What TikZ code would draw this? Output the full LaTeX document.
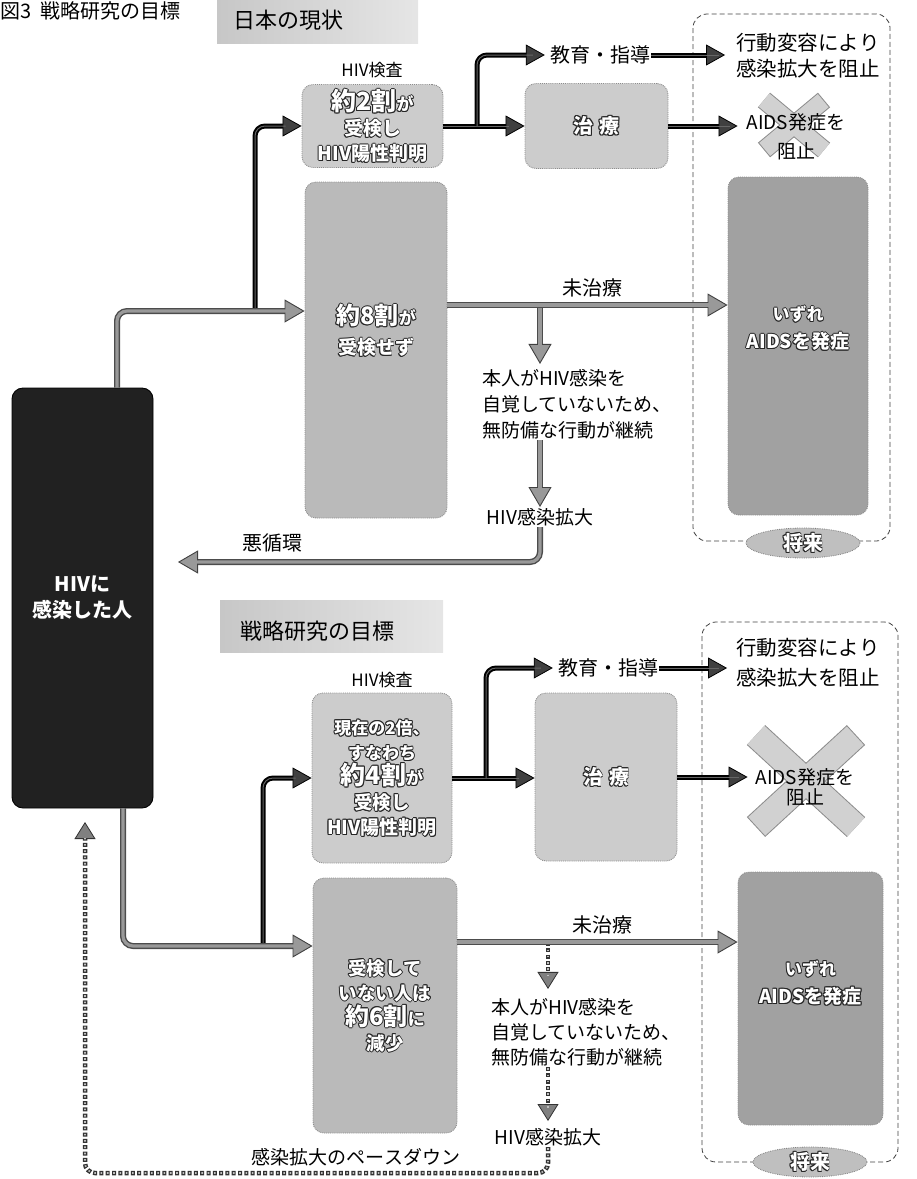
\documentclass[tikz,border=0pt]{standalone}
\usepackage{fontspec}
\setmainfont{Noto Sans CJK JP}
\usetikzlibrary{arrows.meta,calc,shapes.geometric}
\definecolor{boxlight}{gray}{0.80}
\definecolor{boxmid}{gray}{0.73}
\definecolor{boxdark}{gray}{0.63}
\definecolor{hivfill}{gray}{0.13}
\newcommand\fsz[2]{\fontsize{#1pt}{#2pt}\selectfont}
\newcommand\hlo[1]{\leavevmode
 \rlap{\color{black!85}\kern.95pt#1}%
 \rlap{\color{black!85}\kern-.95pt#1}%
 \rlap{\color{black!85}\raise.95pt\hbox{#1}}%
 \rlap{\color{black!85}\raise-.95pt\hbox{#1}}%
 \rlap{\color{black!85}\kern.7pt\raise.7pt\hbox{#1}}%
 \rlap{\color{black!85}\kern-.7pt\raise.7pt\hbox{#1}}%
 \rlap{\color{black!85}\kern.7pt\raise-.7pt\hbox{#1}}%
 \rlap{\color{black!85}\kern-.7pt\raise-.7pt\hbox{#1}}%
 {\color{white}#1}}
\tikzset{
 rbox/.style={rounded corners=11pt, draw=black!45, densely dotted, line width=.9pt, align=center, inner sep=0pt},
 lt/.style={rbox, fill=boxlight},
 md/.style={rbox, fill=boxmid},
 dk/.style={rbox, fill=boxdark},
 lbl/.style={inner sep=1pt, align=center, font=\fsz{19}{25}},
 titletxt/.style={inner sep=0pt, font=\fsz{22}{24}},
 frame/.style={draw=black!75, line width=.8pt, dash pattern=on 5pt off 3pt, rounded corners=14pt},
 futell/.style={ellipse, fill=black!25, draw=black!50, densely dotted, line width=.8pt, minimum width=114pt, minimum height=30pt, inner sep=0pt, font=\fsz{20}{22}\bfseries},
 darkarrow/.style={draw=black, line width=5pt, rounded corners=10pt,
   -{Triangle[length=19pt,width=21pt,line width=.8pt,fill=black!75,color=black]},
   postaction={draw=black!60, line width=1pt, -, shorten >=16pt}},
 grayarrow/.style={draw=black!70, line width=6pt, rounded corners=10pt,
   -{Triangle[length=20pt,width=23pt,line width=.9pt,fill=black!40,color=black!75]},
   postaction={draw=black!40, line width=3.2pt, -, shorten >=18pt}},
 dotarrow/.style={draw=black!80, line width=4.5pt, dash pattern=on 4pt off 2.3pt, rounded corners=10pt,
   -{Triangle[length=17pt,width=21pt,line width=.8pt,fill=black!50,color=black!80]},
   postaction={draw=black!25, line width=1.6pt, -, dash pattern=on 1.6pt off 4.7pt, dash phase=-1.2pt, shorten >=16pt}},
}
\begin{document}
\begin{tikzpicture}[x=1pt,y=-1pt]
\useasboundingbox (0,0) rectangle (917,1179);

% figure title
\node[anchor=west, inner sep=0pt, font=\fsz{20}{22}] (figttl) at (0,11) {図3\hspace{9pt}戦略研究の目標};

% section headings
\fill[left color=black!22, right color=black!10] (217,0) rectangle (418,43);
\node[titletxt, anchor=west] (ttl1) at (233,20) {日本の現状};
\fill[left color=black!22, right color=black!10] (220,600) rectangle (443,652);
\node[titletxt, anchor=west] (ttl2) at (240,631) {戦略研究の目標};

% future frames
\draw[frame] (693,14) rectangle (890,541);
\draw[frame] (702,622) rectangle (898,1162);

% X marks
\draw[line width=19pt, draw=black!45] (764,100) -- (824,150) (824,100) -- (764,150);
\draw[line width=17pt, draw=black!18, shorten >=1pt, shorten <=1pt] (764,100) -- (824,150) (824,100) -- (764,150);
\draw[line width=27pt, draw=black!45] (756,735) -- (856,827) (856,735) -- (756,827);
\draw[line width=25pt, draw=black!18, shorten >=1pt, shorten <=1pt] (756,735) -- (856,827) (856,735) -- (756,827);

% main person box
\node[rbox, fill=hivfill, draw=black, solid, minimum width=141pt, minimum height=420pt, font=\fsz{20}{26}\bfseries, text=white] (hiv) at (82.5,598) {HIVに\\感染した人};

% ---------- upper part ----------
\node[lbl, font=\fsz{17}{19}] (test1) at (372,70) {HIV検査};
\node[lt, minimum width=141pt, minimum height=83pt, font=\fsz{19}{25}\bfseries] (a1) at (372.5,126) {\hlo{{\fsz{25}{28}約2割}{\fsz{17}{20}が}}\\\hlo{受検し}\\\hlo{HIV陽性判明}};
\node[md, minimum width=142pt, minimum height=336pt, font=\fsz{19}{30}\bfseries] (b1) at (376,350) {\hlo{{\fsz{24}{28}約8割}{\fsz{17}{20}が}}\\\hlo{受検せず}\\[12pt]};
\node[lt, minimum width=143pt, minimum height=85pt, font=\fsz{20}{24}\bfseries] (t1) at (596.5,126) {\hlo{治\hspace{6pt}療}};
\node[lbl, font=\fsz{20}{24}] (edu1) at (600,55) {教育・指導};
\node[lbl, font=\fsz{20.5}{26}] (act1) at (808,56) {行動変容により\\感染拡大を阻止};
\node[lbl, font=\fsz{19}{29}] (stop1) at (796,137) {AIDS発症を\\阻止};
\node[dk, minimum width=140pt, minimum height=338pt, font=\fsz{19}{28}\bfseries] (fut1) at (798,346) {\hlo{{\fsz{17}{20}いずれ}}\\\hlo{AIDSを発症}\\[10pt]};
\node[futell] (fl1) at (803,543) {\hlo{将来}};
\node[lbl, font=\fsz{20}{24}] (unt1) at (592,288) {未治療};
\node[lbl, align=left, anchor=west, font=\fsz{19}{26}] (una1) at (481,404) {本人がHIV感染を\\自覚していないため、\\無防備な行動が継続};
\node[lbl] (spr1) at (540,517) {HIV感染拡大};
\node[lbl, font=\fsz{20}{24}] (vic) at (272,543) {悪循環};

% ---------- lower part ----------
\node[lbl, font=\fsz{17}{19}] (test2) at (382,680) {HIV検査};
\node[lt, minimum width=140pt, minimum height=170pt, font=\fsz{17}{25}\bfseries] (a2) at (382,778) {\hlo{現在の2倍、}\\\hlo{すなわち}\\\hlo{{\fsz{25}{28}約4割}{\fsz{17}{20}が}}\\\hlo{{\fsz{18.5}{20}受検し}}\\\hlo{{\fsz{19}{20}HIV陽性判明}}};
\node[md, minimum width=144pt, minimum height=255pt, font=\fsz{18.5}{25}\bfseries] (b2) at (385,1005.5) {\hlo{受検して}\\\hlo{いない人は}\\\hlo{{\fsz{24}{28}約6割}{\fsz{17}{20}に}}\\\hlo{減少}};
\node[lt, minimum width=142pt, minimum height=168pt, font=\fsz{20}{24}\bfseries] (t2) at (606,777) {\hlo{治\hspace{6pt}療}};
\node[lbl, font=\fsz{20}{24}] (edu2) at (608,668) {教育・指導};
\node[lbl, font=\fsz{20.5}{30}] (act2) at (808,663) {行動変容により\\感染拡大を阻止};
\node[lbl, font=\fsz{19}{20}] (stop2) at (805,787.5) {AIDS発症を\\阻止};
\node[dk, minimum width=145pt, minimum height=253pt, font=\fsz{19}{28}\bfseries] (fut2) at (810.5,998.5) {\hlo{{\fsz{17}{20}いずれ}}\\\hlo{AIDSを発症}\\[6pt]};
\node[futell] (fl2) at (810,1162) {\hlo{将来}};
\node[lbl, font=\fsz{20}{24}] (unt2) at (602,925) {未治療};
\node[lbl, align=left, anchor=west, font=\fsz{19}{25}] (una2) at (490,1032) {本人がHIV感染を\\自覚していないため、\\無防備な行動が継続};
\node[lbl] (spr2) at (548,1137) {HIV感染拡大};
\node[lbl] (slow) at (356,1157) {感染拡大のペースダウン};

% ---------- connectors, upper ----------
\coordinate (j1) at (117,311);
\coordinate (j2) at (255,311);
\coordinate (j3) at (477,126);
\coordinate (r1) at (0,305);
\coordinate (d1) at (540,305);
\coordinate (vc1) at (178,562);
\draw[darkarrow] (j2) |- (a1.west);
\draw[grayarrow] (hiv.north -| j1) |- (b1.west |- j1);
\draw[darkarrow] (a1.east) -- (t1.west);
\draw[darkarrow, shorten >=4pt] (j3) |- (edu1.west);
\draw[darkarrow, shorten >=10pt] (edu1.east) -- (edu1.east -| act1.west);
\draw[darkarrow, shorten >=8pt] (t1.east) -- (t1.east -| stop1.west);
\draw[grayarrow, shorten >=4pt] (d1) -- (d1 |- una1.north);
\draw[grayarrow] (d1 |- una1.south) -- (d1 |- spr1.north);
\draw[grayarrow] (b1.east |- r1) -- (fut1.west |- r1);
\draw[grayarrow] (spr1.south) |- (vc1);

% ---------- connectors, lower ----------
\coordinate (j4) at (123,946);
\coordinate (j5) at (263,946);
\coordinate (j6) at (486,778);
\coordinate (r2) at (0,942);
\coordinate (d2) at (548,942);
\coordinate (bl) at (85,1173);
\coordinate (vc2) at (85,822);
\draw[darkarrow] (j5) |- (a2.west);
\draw[grayarrow] (hiv.south -| j4) |- (b2.west |- j4);
\draw[darkarrow] (a2.east) -- (a2.east -| t2.west);
\draw[darkarrow, shorten >=4pt] (j6) |- (edu2.west);
\draw[darkarrow, shorten >=8pt] (edu2.east) -- (edu2.east -| act2.west);
\draw[darkarrow, shorten >=7pt] (t2.east) -- (t2.east -| stop2.west);
\draw[dotarrow, shorten >=8pt] (d2) -- (d2 |- una2.north);
\draw[dotarrow, shorten >=6pt] (d2 |- una2.south) -- (d2 |- spr2.north);
\draw[grayarrow] (b2.east |- r2) -- (fut2.west |- r2);
\draw[dotarrow] (spr2.south) |- (bl) -- (vc2);
\end{tikzpicture}
\end{document}
